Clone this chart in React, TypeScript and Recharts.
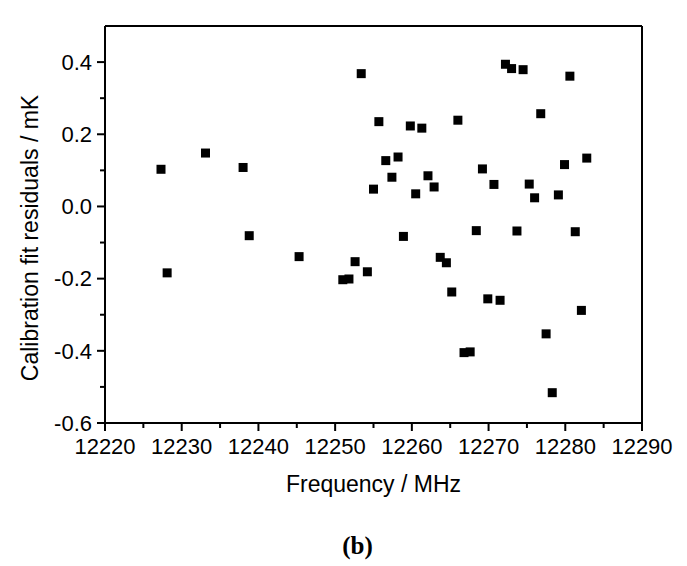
import React from 'react'
import { ReferenceLine, Scatter, ScatterChart, XAxis, YAxis, Label } from 'recharts'

// frequencies (MHz) and calibration fit residuals (mK)
const frequency = [
  12227.3, 12228.1, 12233.1, 12238.0, 12238.8, 12245.3, 12251.0, 12251.8, 12252.6, 12253.4,
  12254.2, 12255.0, 12255.7, 12256.6, 12257.4, 12258.2, 12258.9, 12259.8, 12260.5, 12261.3,
  12262.1, 12262.9, 12263.7, 12264.5, 12265.2, 12266.0, 12266.8, 12267.6, 12268.4, 12269.2,
  12269.9, 12270.7, 12271.5, 12272.2, 12273.0, 12273.7, 12274.5, 12275.3, 12276.0, 12276.8,
  12277.5, 12278.3, 12279.1, 12279.9, 12280.6, 12281.3, 12282.1, 12282.8,
]
const residual = [
  0.103, -0.184, 0.148, 0.108, -0.081, -0.139, -0.203, -0.201, -0.153, 0.368,
  -0.181, 0.048, 0.235, 0.127, 0.081, 0.137, -0.083, 0.223, 0.035, 0.217,
  0.085, 0.054, -0.141, -0.156, -0.237, 0.239, -0.405, -0.403, -0.067, 0.104,
  -0.256, 0.061, -0.26, 0.394, 0.382, -0.068, 0.379, 0.062, 0.024, 0.257,
  -0.353, -0.516, 0.032, 0.116, 0.361, -0.07, -0.288, 0.134,
]

const xTicks = [12220, 12225, 12230, 12235, 12240, 12245, 12250, 12255, 12260, 12265, 12270, 12275, 12280, 12285, 12290]
const yTicks = [-0.6, -0.5, -0.4, -0.3, -0.2, -0.1, 0, 0.1, 0.2, 0.3, 0.4]

const xLabel = 'Frequency / MHz'
const yLabel = 'Calibration fit residuals / mK'

const FONT = '"Liberation Sans", Arial, sans-serif'
const W = 679
const H = 558

const data = frequency.map((f, i) => ({ f, r: residual[i] }))

const X_TICK_SIZE = 8
const X_TICK_MARGIN = 7
const Y_TICK_SIZE = 8
const Y_TICK_MARGIN = 5

const XTick = (props: any) => {
  const { x, y, payload } = props
  const v = payload.value as number
  const major = v % 10 === 0
  const axisY = y - X_TICK_SIZE - X_TICK_MARGIN
  return (
    <g>
      <line x1={x} x2={x} y1={axisY} y2={axisY + (major ? 8 : 5)} stroke="#000" strokeWidth={2} />
      {major && (
        <text x={x} y={y} dy="0.71em" textAnchor="middle" fontSize={22} fontFamily={FONT} fill="#000">
          {v}
        </text>
      )}
    </g>
  )
}

const YTick = (props: any) => {
  const { x, y, payload } = props
  const v = payload.value as number
  const major = Math.round(v * 10) % 2 === 0
  const axisX = x + Y_TICK_SIZE + Y_TICK_MARGIN
  return (
    <g>
      <line x1={axisX - (major ? 8 : 5)} x2={axisX} y1={y} y2={y} stroke="#000" strokeWidth={2} />
      {major && (
        <text x={x} y={y} dy="0.355em" textAnchor="end" fontSize={22} fontFamily={FONT} fill="#000">
          {v.toFixed(1)}
        </text>
      )}
    </g>
  )
}

const Square = (props: any) => {
  const { cx, cy } = props
  return <rect x={cx - 4.5} y={cy - 4.5} width={9} height={9} fill="#000" />
}

export default function App() {
  return (
    <div style={{ position: 'relative', width: W, height: H, fontFamily: FONT }}>
      <ScatterChart width={W} height={H} margin={{ top: 18, right: 45, left: 0, bottom: 83 }}>
        <XAxis
          type="number"
          dataKey="f"
          domain={[12220, 12290]}
          ticks={xTicks}
          interval={0}
          allowDataOverflow
          height={60}
          tickSize={X_TICK_SIZE}
          tickMargin={X_TICK_MARGIN}
          tickLine={false}
          tick={XTick}
          axisLine={{ stroke: '#000', strokeWidth: 2 }}
        >
          <Label
            content={({ viewBox }: any) => (
              <text
                x={viewBox.x + viewBox.width / 2}
                y={483.5}
                textAnchor="middle"
                fontSize={23}
                fontFamily={FONT}
                fill="#000"
              >
                {xLabel}
              </text>
            )}
          />
        </XAxis>
        <YAxis
          type="number"
          dataKey="r"
          domain={[-0.6, 0.5]}
          ticks={yTicks}
          interval={0}
          allowDataOverflow
          width={97}
          tickSize={Y_TICK_SIZE}
          tickMargin={Y_TICK_MARGIN}
          tickLine={false}
          tick={YTick}
          axisLine={{ stroke: '#000', strokeWidth: 2 }}
        >
          <Label
            content={() => (
              <text
                x={30}
                y={230}
                transform="rotate(-90, 30, 230)"
                textAnchor="middle"
                fontSize={23}
                fontFamily={FONT}
                fill="#000"
              >
                {yLabel}
              </text>
            )}
          />
        </YAxis>
        <ReferenceLine y={0.5} stroke="#000" strokeWidth={2} />
        <ReferenceLine x={12290} stroke="#000" strokeWidth={2} />
        <Scatter data={data} shape={Square} isAnimationActive={false} />
      </ScatterChart>
      <svg width={W} height={H} style={{ position: 'absolute', left: 0, top: 0, pointerEvents: 'none' }}>
        <text
          x={349.5}
          y={545.5}
          textAnchor="middle"
          fontSize={25}
          fontWeight="bold"
          fontFamily='"Liberation Serif", "Times New Roman", serif'
          fill="#000"
        >
          (b)
        </text>
      </svg>
    </div>
  )
}
